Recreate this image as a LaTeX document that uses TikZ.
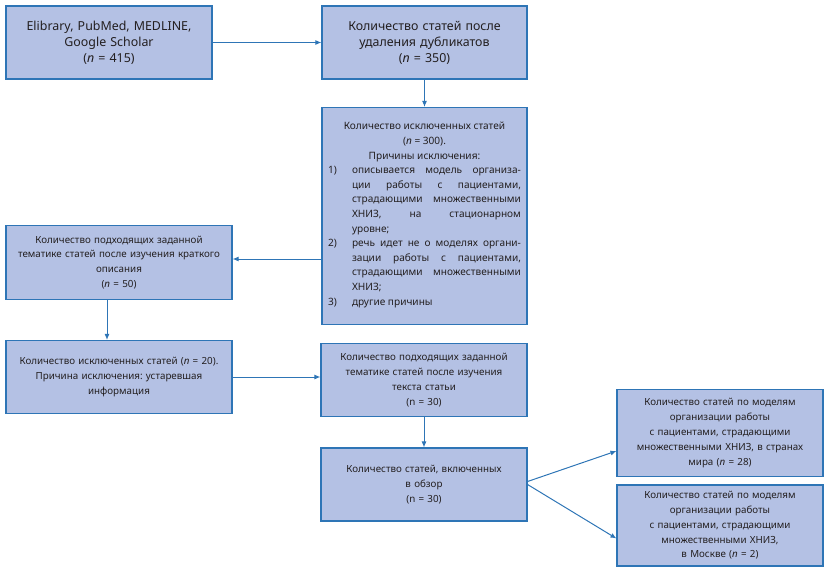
\documentclass[tikz,border=0pt]{standalone}
\usepackage{fontspec}
\setmainfont{Noto Sans}
\usetikzlibrary{arrows.meta}
\frenchspacing
\definecolor{boxfill}{RGB}{180,193,228}
\definecolor{boxline}{RGB}{46,117,182}
\definecolor{txt}{RGB}{35,31,32}
\tikzset{
  box/.style={draw=boxline, fill=boxfill, line width=1.1pt, inner sep=0pt,
    align=center, text=txt, anchor=center},
  big/.style={font=\fontsize{12.4}{16}\selectfont\frenchspacing},
  small/.style={font=\fontsize{10.1}{14.6}\selectfont\frenchspacing},
  mid/.style={font=\fontsize{9.8}{14.8}\selectfont\frenchspacing},
  arr/.style={draw=boxline, line width=1pt, -{Latex[length=6pt,width=5pt]}}
}
\begin{document}
\begin{tikzpicture}[x=1pt,y=-1pt]
\useasboundingbox (0,0) rectangle (828,576);
\node[box,big,minimum width=206,minimum height=73,text width=200] (b1) at (109,42.5)
  {Elibrary, PubMed, MEDLINE,\\Google Scholar\\(\textit{n} = 415)};
\node[box,big,minimum width=205,minimum height=73,text width=200] (b2) at (424.5,42.5)
  {Количество статей после\\удаления дубликатов\\(\textit{n} = 350)};
\node[box,small,minimum width=205,minimum height=217,text width=193,align=justify] (b3) at (424.5,216)
  {{\centering Количество исключенных статей\\(\textit{n} = 300).\\Причины исключения:\par}
   \leftskip=24pt
   \noindent\llap{\makebox[24pt][l]{1)}}описывается модель организа-\linebreak
   ции работы с пациентами,\linebreak страдающими множественными\linebreak
   ХНИЗ, на стационарном\linebreak уровне;\par
   \noindent\llap{\makebox[24pt][l]{2)}}речь идет не о моделях органи-\linebreak
   зации работы с пациентами,\linebreak страдающими множественными\linebreak
   ХНИЗ;\par
   \noindent\llap{\makebox[24pt][l]{3)}}другие причины\par
   \vspace*{2pt}};
\node[box,mid,minimum width=226,minimum height=74,text width=222] (b4) at (119,262.5)
  {Количество подходящих заданной\\тематике статей после изучения краткого\\описания\\(\textit{n} = 50)};
\node[box,mid,minimum width=226,minimum height=73,text width=222] (b5) at (119,377)
  {Количество исключенных статей (\textit{n} = 20).\\Причина исключения: устаревшая\\информация};
\node[box,mid,minimum width=206,minimum height=73,text width=200] (b6) at (424,380)
  {Количество подходящих заданной\\тематике статей после изучения\\текста статьи\\(n = 30)};
\node[box,mid,minimum width=206,minimum height=73,text width=200] (b7) at (424,484.5)
  {Количество статей, включенных\\в обзор\\(n = 30)};
\node[box,mid,minimum width=206,minimum height=87,text width=200] (b8) at (720,433)
  {Количество статей по моделям\\организации работы\\с пациентами, страдающими\\множественными ХНИЗ, в странах\\мира (\textit{n} = 28)};
\node[box,mid,minimum width=206,minimum height=81,text width=200] (b9) at (720,525.5)
  {Количество статей по моделям\\организации работы\\с пациентами, страдающими\\множественными ХНИЗ,\\в Москве (\textit{n} = 2)};
\draw[arr] (b1.east) -- (b2.west |- b1.east);
\draw[arr] (b2.south) -- (b3.north);
\draw[arr] ([yshift=3.5pt]b3.west |- b4.east) -- ([yshift=3.5pt]b4.east);
\draw[arr] ([xshift=-12pt]b4.south) -- ([xshift=-12pt]b5.north);
\draw[arr] (b5.east) -- (b6.west |- b5.east);
\draw[arr] (b6.south) -- (b7.north);
\draw[arr] ([yshift=3pt]b7.east) -- ([yshift=-18pt]b8.west);
\draw[arr] (b7.east) -- ([yshift=-13pt]b9.west);
\end{tikzpicture}
\end{document}
